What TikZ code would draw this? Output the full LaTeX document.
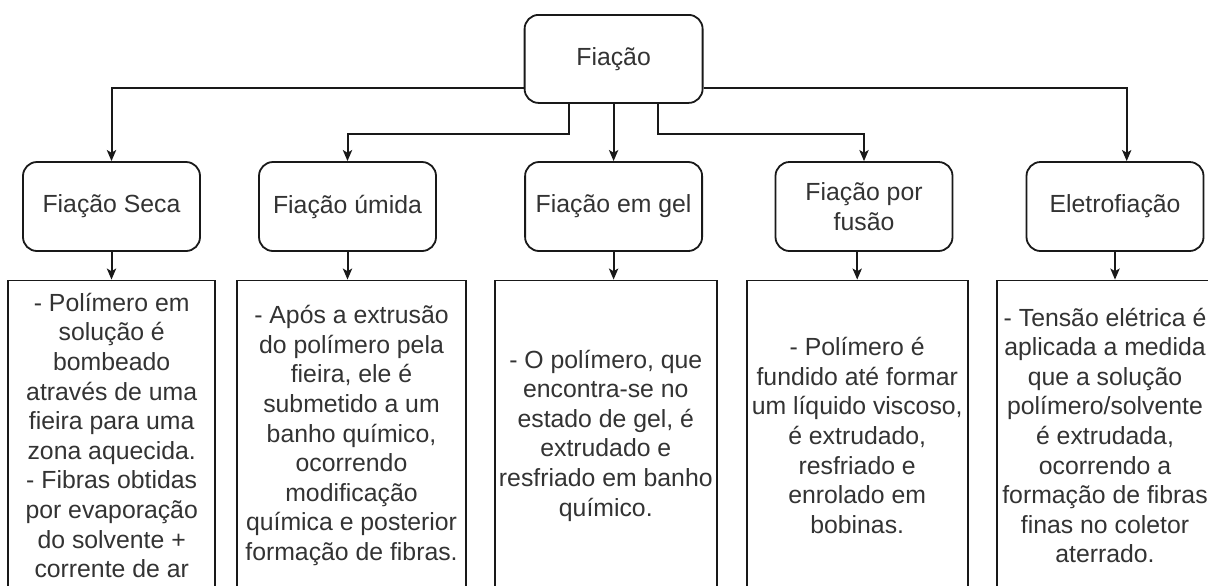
\documentclass[tikz,border=0pt]{standalone}
\usepackage{fontspec}
\setmainfont{Liberation Sans}
\usepackage{tikz}
\usetikzlibrary{positioning, calc, arrows.meta}

\def\px{0.5pt}

\tikzset{
    txt/.style={font=\fontsize{12.4}{14.8}\selectfont, text=black!80, align=center, inner sep=0pt},
    stagebox/.style={txt, draw=black!90, line width=0.9pt, rounded corners=7pt,
        minimum width=177*\px, minimum height=89*\px},
    descbox/.style={txt, draw=black!90, line width=0.9pt, minimum height=310*\px},
    link/.style={draw=black!90, line width=1pt, -{Stealth[length=5.5pt, width=4.6pt, inset=1.3pt]}}
}

\begin{document}
\begin{tikzpicture}[x=\px, y=-\px]
    % page
    \useasboundingbox (0,0) rectangle (1208,585);
    \fill[white] (0,0) rectangle (1208,585);
    \clip (0,0) rectangle (1208,585);

    % root
    \node[stagebox, minimum width=178*\px, minimum height=88*\px] (fiacao) at (613.6,58.9) {Fiação};

    % the five processes
    \foreach \name/\x/\label in {
        seca/111.5/{Fiação Seca},
        umida/347.5/{Fiação úmida},
        gel/613.6/{Fiação em gel},
        fusao/864/{Fiação por\\fusão},
        eletro/1115/{Eletrofiação}}
    {
        \node[stagebox] (\name) at (\x,206.5) {\label};
    }

    % descriptions
    \node[descbox, minimum width=207*\px] (dseca) at (111.7,435.5)
        {- Polímero em\\solução é\\bombeado\\através de uma\\fieira para uma\\zona aquecida.\\- Fibras obtidas\\por evaporação\\do solvente +\\corrente de ar};
    \node[descbox, minimum width=229*\px] (dumida) at (351.5,435.5)
        {- Após a extrusão\\do polímero pela\\fieira, ele é\\submetido a um\\banho químico,\\ocorrendo\\modificação\\química e posterior\\formação de fibras.};
    \node[descbox, minimum width=222*\px] (dgel) at (605.8,435.5)
        {- O polímero, que\\encontra-se no\\estado de gel, é\\extrudado e\\resfriado em banho\\químico.};
    \node[descbox, minimum width=221*\px] (dfusao) at (857.2,435.5)
        {- Polímero é\\fundido até formar\\um líquido viscoso,\\é extrudado,\\resfriado e\\enrolado em\\bobinas.};
    \node[descbox, minimum width=216*\px] (deletro) at (1105,435.5)
        {- Tensão elétrica é\\aplicada a medida\\que a solução\\polímero/solvente\\é extrudada,\\ocorrendo a\\formação de fibras\\finas no coletor\\aterrado.};

    % root -> processes
    \draw[link] ($(fiacao.west)+(0,29.4)$) -| (seca.north);
    \draw[link] ($(fiacao.east)+(0,29.4)$) -| ($(eletro.north)+(11.7,0)$);
    \draw[link] ($(fiacao.south)+(-44.6,0)$) -- ++(0,30) -| (umida.north);
    \draw[link] (fiacao) -- (gel);
    \draw[link] ($(fiacao.south)+(44,0)$) -- ++(0,30) -| (fusao.north);

    % processes -> descriptions
    \foreach \a/\b in {seca/dseca, umida/dumida, gel/dgel, eletro/deletro}
    {
        \draw[link] (\a.south) -- (\a.south |- \b.north);
    }
    \draw[link] (fusao.south -| dfusao.north) -- (dfusao.north);
\end{tikzpicture}
\end{document}
